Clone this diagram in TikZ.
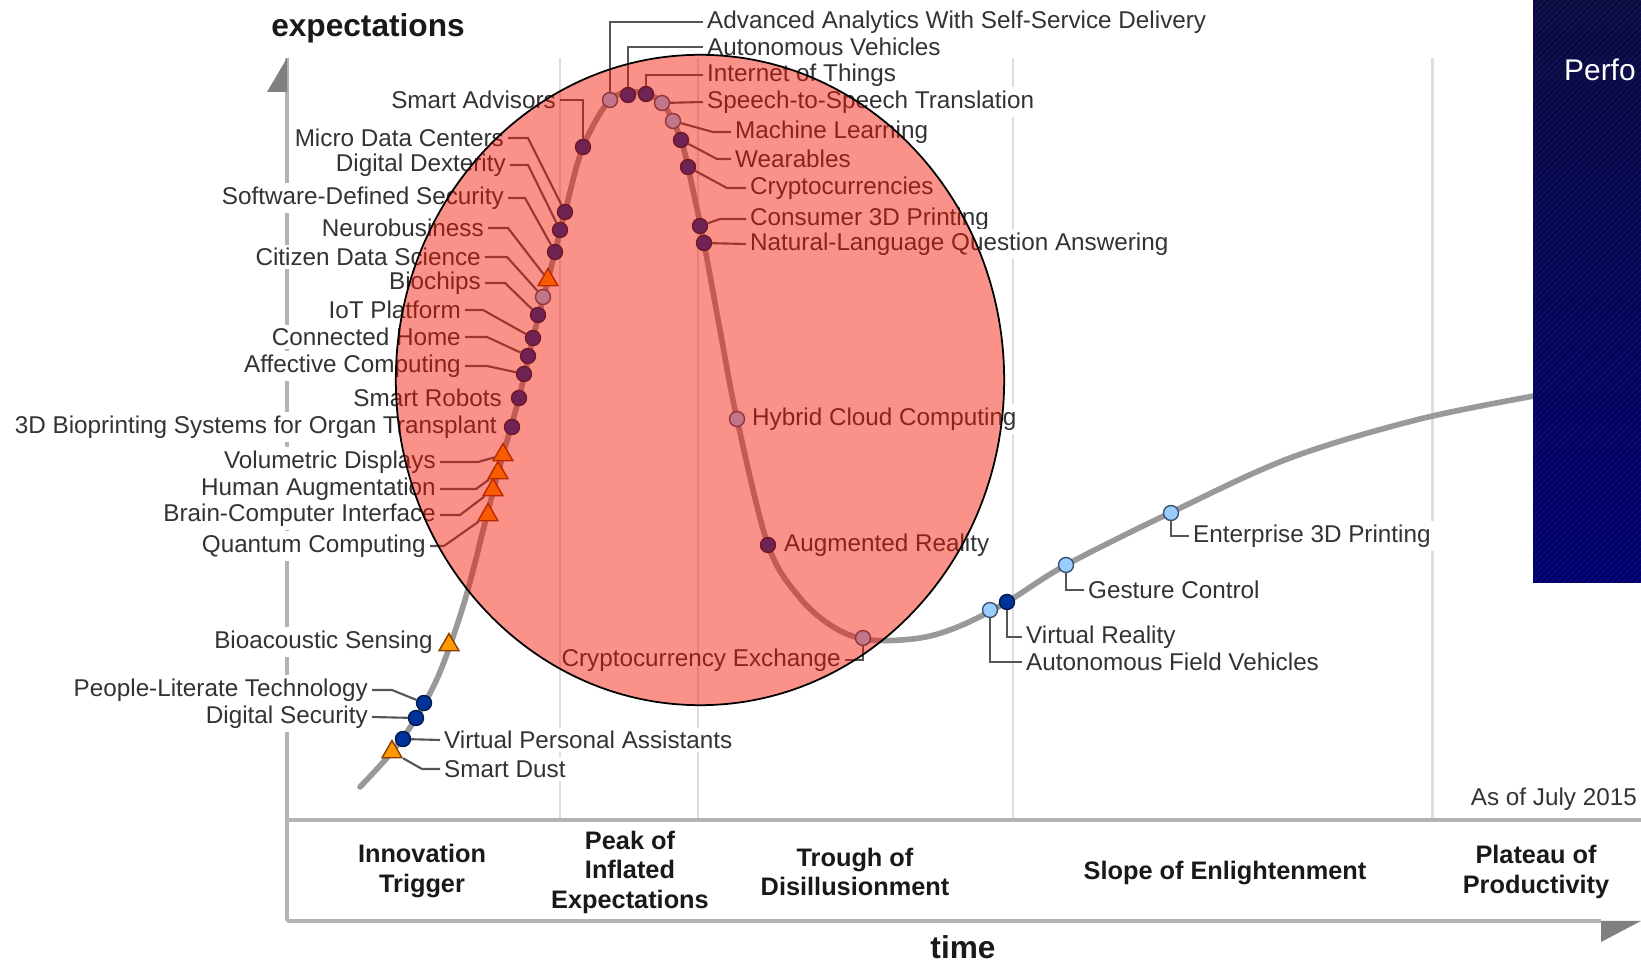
\documentclass[tikz,border=0pt]{standalone}
\usepackage{fontspec}
\setmainfont{Liberation Sans}
\usetikzlibrary{shapes.geometric}

\definecolor{dkblue}{HTML}{003399}
\definecolor{dkline}{HTML}{001A4D}
\definecolor{ltblue}{HTML}{99CCFF}
\definecolor{ltline}{HTML}{3D5270}
\definecolor{trifill}{HTML}{FF9900}
\definecolor{triline}{HTML}{8A3B00}
\definecolor{hypec}{HTML}{999999}
\definecolor{gridc}{HTML}{DDDDDD}
\definecolor{axisc}{HTML}{B3B3B3}
\definecolor{arrowc}{HTML}{808080}
\definecolor{txtc}{HTML}{333333}
\definecolor{leadc}{HTML}{555555}
\definecolor{spot}{RGB}{244,18,0}
\definecolor{panelTop}{HTML}{0B0B3E}
\definecolor{panelBot}{HTML}{00006C}

\tikzset{
	lbl/.style = {font = \fontsize{6.9}{8}\selectfont, text = txtc, fill = white, inner sep = 1pt},
	phase/.style = {font = \bfseries\fontsize{7.2}{8.4}\selectfont, text = black!90, align = center},
	axlbl/.style = {font = \bfseries\fontsize{9}{10}\selectfont, text = black!90},
	dk/.style = {circle, draw = dkline, fill = dkblue, line width = 0.4pt, inner sep = 0pt, minimum size = 1.5mm},
	lt/.style = {dk, draw = ltline, fill = ltblue},
	tri/.style = {regular polygon, regular polygon sides = 3, draw = triline, fill = trifill, line width = 0.4pt, inner sep = 0pt, minimum size = 2.3mm},
	lead/.style = {draw = leadc, line width = 0.6pt},
	phaseline/.style = {draw = gridc, line width = 0.85pt},
	axisline/.style = {draw = axisc, line width = 0.9pt},
	stripe/.style = {draw = blue!60!white, line width = 0.2pt, opacity = 0.18}
}

\begin{document}
\begin{tikzpicture}[x = 0.01cm, y = -0.01cm]
		\useasboundingbox (0, 0) rectangle (1641, 964);
		\foreach \gx in {560, 698, 1013, 1432}
			\draw[phaseline] (\gx, 58) -- (\gx, 820);
		\draw[axisline] (287, 58) -- (287, 921);
		\draw[axisline] (287, 820) -- (1641, 820);
		\draw[axisline] (287, 921) -- (1601, 921);
		\fill[arrowc] (287, 58) -- (267, 92) -- (287, 92) -- cycle;
		\fill[arrowc] (1601, 921) -- (1641, 921) -- (1601, 942) -- cycle;
			\node[axlbl] (ytitle) at (368, 28) {expectations};
			\node[axlbl] (xtitle) at (963, 947) {time};
			\node[phase] (ph1) at (422, 871) {Innovation\\Trigger};
			\node[phase] (ph2) at (630, 872) {Peak of\\Inflated\\Expectations};
			\node[phase] (ph3) at (855, 872) {Trough of\\Disillusionment};
			\node[phase] (ph4) at (1225, 873) {Slope of Enlightenment};
			\node[phase] (ph5) at (1536, 872) {Plateau of\\Productivity};
			\node[lbl, fill = none, anchor = east] (asof) at (1641, 799) {As of July 2015};

			\node[lbl, anchor = west] (aat) at (703, 22) {Advanced Analytics With Self-Service Delivery};
			\node[lbl, anchor = west] (avt) at (703, 47) {Autonomous Vehicles};
			\node[lbl, anchor = west] (intht) at (703, 75) {Internet of Things};
			\node[lbl, anchor = west] (sstt) at (703, 102) {Speech-to-Speech Translation};
			\node[lbl, anchor = west] (mlt) at (731, 132) {Machine Learning};
			\node[lbl, anchor = west] (wet) at (731, 159) {Wearables};
			\node[lbl, anchor = west] (crt) at (746, 188) {Cryptocurrencies};
			\node[lbl, anchor = west] (cpt) at (746, 219) {Consumer 3D Printing};
			\node[lbl, anchor = west] (nlt) at (746, 244) {Natural-Language Question Answering};
			\node[lbl, anchor = west] (hct) at (748, 419) {Hybrid Cloud Computing};
			\node[lbl, anchor = west] (art) at (780, 545) {Augmented Reality};
			\node[lbl, anchor = west] (vrt) at (1022, 637) {Virtual Reality};
			\node[lbl, anchor = west] (aft) at (1022, 662) {Autonomous Field Vehicles};
			\node[lbl, anchor = west] (gct) at (1084, 590) {Gesture Control};
			\node[lbl, anchor = west] (ept) at (1189, 536) {Enterprise 3D Printing};
			\node[lbl, anchor = west] (vpat) at (440, 740) {Virtual Personal Assistants};
			\node[lbl, anchor = west] (smdt) at (440, 769) {Smart Dust};
			\node[lbl, fill = none, anchor = east] (cet) at (845, 660) {Cryptocurrency Exchange};

			\node[lbl, anchor = east] (sat) at (560, 100) {Smart Advisors};
			\node[lbl, anchor = east] (mdt) at (508, 138) {Micro Data Centers};
			\node[lbl, anchor = east] (dxt) at (510, 165) {Digital Dexterity};
			\node[lbl, anchor = east] (sdst) at (508, 198) {Software-Defined Security};
			\node[lbl, anchor = east] (nbt) at (488, 228) {Neurobusiness};
			\node[lbl, anchor = east] (cdt) at (485, 257) {Citizen Data Science};
			\node[lbl, anchor = east] (bct) at (485, 283) {Biochips};
			\node[lbl, anchor = east] (ipt) at (465, 310) {IoT Platform};
			\node[lbl, anchor = east] (cht) at (465, 337) {Connected Home};
			\node[lbl, anchor = east] (act) at (465, 366) {Affective Computing};
			\node[lbl, anchor = east] (srt) at (506, 398) {Smart Robots};
			\node[lbl, anchor = east] (bpt) at (501, 427) {3D Bioprinting Systems for Organ Transplant};
			\node[lbl, anchor = east] (vdt) at (440, 462) {Volumetric Displays};
			\node[lbl, anchor = east] (hat) at (440, 489) {Human Augmentation};
			\node[lbl, anchor = east] (bcit) at (440, 515) {Brain-Computer Interface};
			\node[lbl, anchor = east] (qct) at (430, 546) {Quantum Computing};
			\node[lbl, anchor = east] (bst) at (437, 642) {Bioacoustic Sensing};
			\node[lbl, anchor = east] (plt) at (372, 690) {People-Literate Technology};
			\node[lbl, anchor = east] (dsect) at (372, 717) {Digital Security};

		\draw[hypec, line width = 1.6pt, line cap = round] plot[smooth, tension = 0.55] coordinates {
			(360, 787) (392, 752) (416, 718) (440, 672) (465, 600) (487, 515) (503, 455) (519, 398)
			(533, 338) (548, 280) (565, 212) (583, 147) (610, 100) (637, 92) (662, 103) (681, 140)
			(694, 195) (704, 243) (720, 330) (737, 419) (768, 545) (800, 598) (835, 628) (870, 640)
			(920, 638) (960, 626) (1007, 602) (1066, 565) (1172, 512) (1290, 458) (1420, 419)
			(1545, 394)};

			\node[tri] (smd) at (392, 752) {};
			\node[dk] (vpa) at (403, 739) {};
			\node[dk] (dsec) at (416, 718) {};
			\node[dk] (pl) at (424, 703) {};
			\node[tri] (bs) at (449, 645) {};
			\node[tri] (qc) at (488, 515) {};
			\node[tri] (bci) at (493, 490) {};
			\node[tri] (ha) at (498, 473) {};
			\node[tri] (vd) at (503, 455) {};
			\node[dk] (bp) at (512, 427) {};
			\node[dk] (sr) at (519, 398) {};
			\node[dk] (ac) at (524, 374) {};
			\node[dk] (ch) at (528, 356) {};
			\node[dk] (ip) at (533, 338) {};
			\node[dk] (bc) at (538, 315) {};
			\node[lt] (cd) at (543, 297) {};
			\node[tri] (nb) at (548, 280) {};
			\node[dk] (sds) at (555, 252) {};
			\node[dk] (dx) at (560, 230) {};
			\node[dk] (md) at (565, 212) {};
			\node[dk] (sa) at (583, 147) {};
			\node[lt] (aa) at (610, 100) {};
			\node[dk] (av) at (628, 95) {};
			\node[dk] (inth) at (646, 94) {};
			\node[lt] (sst) at (662, 103) {};
			\node[lt] (ml) at (673, 121) {};
			\node[dk] (we) at (681, 140) {};
			\node[dk] (cr) at (688, 167) {};
			\node[dk] (cp) at (700, 226) {};
			\node[dk] (nl) at (704, 243) {};
			\node[lt] (hc) at (737, 419) {};
			\node[dk] (ar) at (768, 545) {};
			\node[lt] (ce) at (863, 638) {};
			\node[lt] (af) at (990, 610) {};
			\node[dk] (vr) at (1007, 602) {};
			\node[lt] (gc) at (1066, 565) {};
			\node[lt] (ep) at (1171, 513) {};

		\draw[lead] (aat.west) -| (aa);
		\draw[lead] (avt.west) -| (av);
		\draw[lead] (intht.west) -| (inth);
		\draw[lead] (sstt.west) -- (sst);
		\draw[lead] (mlt.west) -- ++(-18, 0) -- (ml);
		\draw[lead] (wet.west) -- ++(-14, 0) -- (we);
		\draw[lead] (crt.west) -- ++(-19, 0) -- (cr);
		\draw[lead] (cpt.west) -- ++(-26, 0) -- (cp);
		\draw[lead] (nlt.west) -- (nl);
		\draw[lead] (cet.east) -| (ce);
		\draw[lead] (vr) |- (vrt.west);
		\draw[lead] (af) |- (aft.west);
		\draw[lead] (gc) |- (gct.west);
		\draw[lead] (ep) |- (ept.west);
		\draw[lead] (sat.east) -| (sa);
		\draw[lead] (mdt.east) -- ++(20, 0) -- (md);
		\draw[lead] (dxt.east) -- ++(18, 0) -- (dx);
		\draw[lead] (sdst.east) -- ++(17, 0) -- (sds);
		\draw[lead] (nbt.east) -- ++(20, 0) -- (nb);
		\draw[lead] (cdt.east) -- ++(22, 0) -- (cd);
		\draw[lead] (bct.east) -- ++(20, 0) -- (bc);
		\draw[lead] (ipt.east) -- ++(18, 0) -- (ip);
		\draw[lead] (cht.east) -- ++(22, 0) -- (ch);
		\draw[lead] (act.east) -- ++(22, 0) -- (ac);
		\draw[lead] (vdt.east) -- ++(38, 0) -- (vd);
		\draw[lead] (hat.east) -- ++(36, 0) -- (ha);
		\draw[lead] (bcit.east) -- ++(20, 0) -- (bci);
		\draw[lead] (qct.east) -- ++(14, 0) -- (qc);
		\draw[lead] (plt.east) -- ++(20, 0) -- (pl);
		\draw[lead] (dsect.east) -- (dsec);
		\draw[lead] (vpat.west) -- (vpa);
		\draw[lead] (smdt.west) -- ++(-18, 0) -- (smd);

		\fill[spot, fill opacity = 0.46] (700, 380) ellipse [x radius = 3.04cm, y radius = 3.25cm];
		\draw[black, line width = 0.5pt] (700, 380) ellipse [x radius = 3.04cm, y radius = 3.25cm];

		\shade[top color = panelTop, bottom color = panelBot] (1533, 0) rectangle (1641, 583);
		\begin{scope}
			\clip (1533, 0) rectangle (1641, 583);
			\foreach \k in {0, ..., 118}
				\draw[stripe] (1533, 6*\k) -- ++(110, -110);
		\end{scope}
			\node[anchor = west, text = white, inner sep = 1pt, font = \fontsize{8.5}{10}\selectfont] (perf) at (1560, 70) {Perfo};
	\end{tikzpicture}
\end{document}
